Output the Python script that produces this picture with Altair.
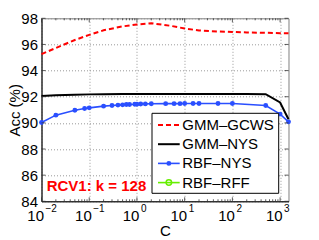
import altair as alt
import pandas as pd

# ---------------- data ----------------
C_gcws = [0.01, 0.02, 0.05, 0.1, 0.2, 0.5, 1, 2, 5, 10, 20, 50, 100, 200, 500, 1000, 1500]
acc_gcws = [95.26, 95.73, 96.34, 96.73, 97.08, 97.38, 97.53, 97.62, 97.43, 97.22, 97.07,
            96.99, 96.96, 96.92, 96.89, 96.86, 96.85]

C_gmm_nys = [0.01, 0.02, 0.05, 0.1, 0.2, 0.5, 1, 2, 5, 10, 20, 50, 100, 200, 500, 1000, 1500]
acc_gmm_nys = [92.05, 92.11, 92.16, 92.18, 92.19, 92.2, 92.2, 92.2, 92.2, 92.2, 92.2,
               92.2, 92.2, 92.2, 92.19, 91.56, 90.28]

C_rbf_nys = [0.01, 0.02, 0.05, 0.08, 0.1, 0.2, 0.3, 0.4, 0.5, 0.6, 0.7, 0.9, 1, 1.2, 1.5, 2,
             4, 6, 8, 10, 15, 20, 50, 100, 500, 1000, 1500]
acc_rbf_nys = [90.03, 90.59, 90.97, 91.10, 91.15, 91.28, 91.33, 91.36, 91.38, 91.40, 91.41,
               91.42, 91.43, 91.44, 91.45, 91.46, 91.47, 91.47, 91.47, 91.48, 91.48, 91.48,
               91.48, 91.48, 91.33, 90.67, 90.08]

series_names = ["GMM–GCWS", "GMM–NYS", "RBF–NYS", "RBF–RFF"]
series_colors = ["#ff0000", "#000000", "#2a4fff", "#66ee00"]

x_major = [0.01, 0.1, 1, 10, 100, 1000]
x_exponents = ["−2", "−1", "0", "1", "2", "3"]
y_major = [84, 86, 88, 90, 92, 94, 96, 98]
annotation = "RCV1: k = 128"

# ---------------- layout ----------------
W, H = 247, 183
FONT = "Liberation Sans"
xsc = alt.Scale(type="log", domain=[0.01, 1500], nice=False)
ysc = alt.Scale(domain=[84, 98], nice=False)

x_minor = [k * 10 ** e for e in range(-2, 3) for k in range(2, 10)]

df_gcws = pd.DataFrame({"C": C_gcws, "acc": acc_gcws})
df_gnys = pd.DataFrame({"C": C_gmm_nys, "acc": acc_gmm_nys})
df_rnys = pd.DataFrame({"C": C_rbf_nys, "acc": acc_rbf_nys})

axis_x = alt.Axis(values=x_major, labels=False, ticks=False, grid=True,
                  gridDash=[1, 2], gridColor="#999999",
                  domainColor="#000000",
                  title="C", titleFont=FONT, titleFontSize=15, titleFontWeight="normal",
                  titleColor="black", titleX=W / 2, titleY=34, titleBaseline="alphabetic",
                  titleAlign="center")
axis_y = alt.Axis(values=y_major, ticks=False, grid=True, labelPadding=4,
                  gridDash=[1, 2], gridColor="#999999",
                  domainColor="#000000",
                  labelFont=FONT, labelFontSize=15, labelColor="black",
                  title="Acc (%)", titleFont=FONT, titleFontSize=15, titleFontWeight="normal",
                  titleColor="black", titleAngle=270, titleX=-22.5, titleY=H / 2,
                  titleBaseline="alphabetic", titleAlign="center")

X = alt.X("C:Q", scale=xsc, axis=axis_x)
Y = alt.Y("acc:Q", scale=ysc, axis=axis_y)

red = alt.Chart(df_gcws).mark_line(color=series_colors[0], strokeWidth=2,
                                   strokeDash=[5, 3]).encode(x=X, y=Y)
black = alt.Chart(df_gnys).mark_line(color=series_colors[1], strokeWidth=2).encode(x=X, y=Y)
blue = alt.Chart(df_rnys).mark_line(color=series_colors[2], strokeWidth=1.6).encode(x=X, y=Y)
blue_pts = alt.Chart(df_rnys).mark_point(filled=True, color=series_colors[2], size=24,
                                         opacity=1).encode(x=X, y=Y)

# ---- inside ticks (MATLAB style) ----
df_xmaj = pd.DataFrame({"C": x_major})
df_xmin = pd.DataFrame({"C": x_minor})
df_ymaj = pd.DataFrame({"acc": y_major})
tick_layers = []
for df, ln in [(df_xmaj, 4), (df_xmin, 2)]:
    for y0, y1 in [(H, H - ln), (0, ln)]:
        tick_layers.append(alt.Chart(df).mark_rule(color="#333333", strokeWidth=0.8).encode(
            x=X, y=alt.value(y0), y2=alt.value(y1)))
for x0, x1 in [(0, 4), (W, W - 4)]:
    tick_layers.append(alt.Chart(df_ymaj).mark_rule(color="#333333", strokeWidth=0.8).encode(
        y=Y, x=alt.value(x0), x2=alt.value(x1)))

# ---- x tick labels 10^k ----
df_lab = pd.DataFrame({"C": x_major, "base": ["10"] * len(x_major), "exp": x_exponents})
lab_base = alt.Chart(df_lab).mark_text(font=FONT, fontSize=15, align="right",
                                       baseline="alphabetic", dx=2.5, color="black").encode(
    x=X, y=alt.value(H + 19.7), text="base:N")
lab_exp = alt.Chart(df_lab).mark_text(font=FONT, fontSize=10, align="left",
                                      baseline="alphabetic", dx=4, color="black").encode(
    x=X, y=alt.value(H + 11), text="exp:N")

# ---- legend box ----
LX0, LX1, LY0, LY1 = 110.5, 237.2, 95, 175
legend_layers = [
    alt.Chart(pd.DataFrame({"a": [0]})).mark_rect(fill="white", stroke="black",
                                                  strokeWidth=1).encode(
        x=alt.value(LX0), x2=alt.value(LX1), y=alt.value(LY0), y2=alt.value(LY1))
]
row_y0, row_dy = 106.7, 19.2
sym_x0, sym_x1, txt_x = 116.5, 138.2, 140.8
for i, (name, col) in enumerate(zip(series_names, series_colors)):
    yy = row_y0 + i * row_dy
    one = pd.DataFrame({"name": [name]})
    kw = dict(color=col, strokeWidth=2 if i < 2 else 1.6)
    if i == 0:
        kw["strokeDash"] = [5, 3]
    legend_layers.append(alt.Chart(one).mark_rule(**kw).encode(
        x=alt.value(sym_x0), x2=alt.value(sym_x1), y=alt.value(yy)))
    if i == 2:
        legend_layers.append(alt.Chart(one).mark_point(filled=True, color=col, size=24,
                                                       opacity=1).encode(
            x=alt.value((sym_x0 + sym_x1) / 2), y=alt.value(yy)))
    if i == 3:
        legend_layers.append(alt.Chart(one).mark_point(filled=False, color=col, size=30,
                                                       strokeWidth=1.5, opacity=1).encode(
            x=alt.value((sym_x0 + sym_x1) / 2), y=alt.value(yy)))
    legend_layers.append(alt.Chart(one).mark_text(font=FONT, fontSize=15, align="left",
                                                  baseline="middle", color="black").encode(
        x=alt.value(txt_x), y=alt.value(yy), text="name:N"))

note = alt.Chart(pd.DataFrame({"t": [annotation]})).mark_text(
    font=FONT, fontSize=15, fontWeight="bold", color="#ff0000", align="left",
    baseline="alphabetic").encode(x=alt.value(5.2), y=alt.value(172.7), text="t:N")

chart = alt.layer(red, black, blue, blue_pts, *tick_layers, lab_base, lab_exp,
                  *legend_layers, note).properties(
    width=W, height=H,
    padding={"left": 33.5, "top": 10.3, "right": 8, "bottom": 38},
    autosize=alt.AutoSizeParams(type="none"),
    background="white",
).configure_view(stroke="#808080", strokeWidth=1)

chart.save("out.html", embed_options={"renderer": "svg", "actions": False})
